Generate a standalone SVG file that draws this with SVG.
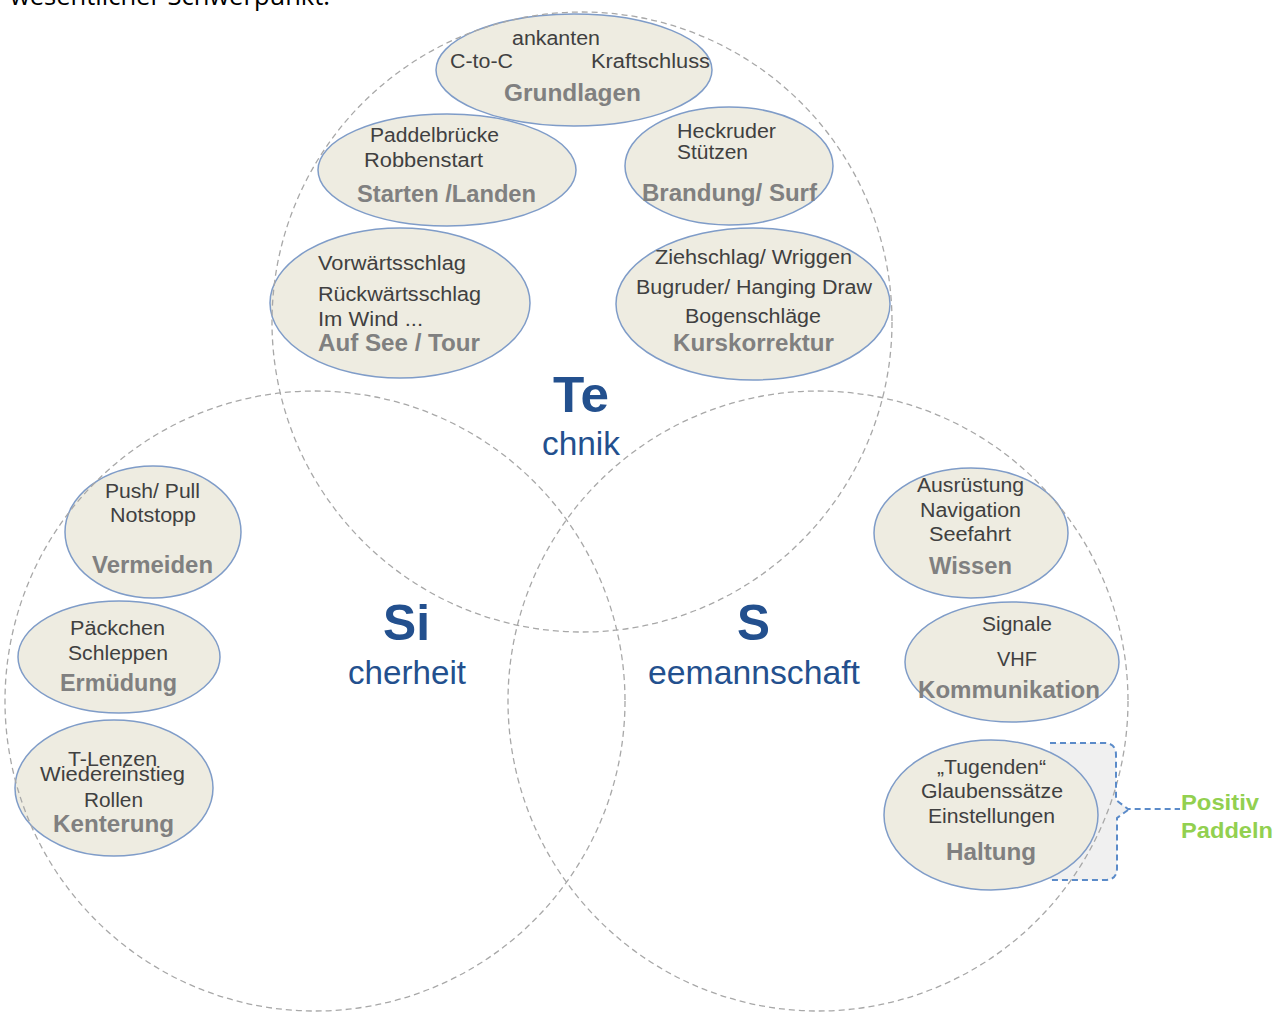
<svg xmlns="http://www.w3.org/2000/svg" width="1281" height="1012" viewBox="0 0 1281 1012">
<style>
.bg{fill:#ffffff}
.big-circle{fill:none;stroke:#a8a8a8;stroke-width:1.3;stroke-dasharray:6 4}
.node ellipse{fill:#eeece1;stroke:#7f9cc8;stroke-width:1.5}
.t{font-family:"Liberation Sans",Arial,sans-serif;font-size:20px;fill:#404040}
.h{font-family:"Liberation Sans",Arial,sans-serif;font-size:23px;font-weight:bold;fill:#808080}
.big{font-family:"Liberation Sans",Arial,sans-serif;font-size:50px;font-weight:bold;fill:#23508e}
.sub{font-family:"Liberation Sans",Arial,sans-serif;font-size:33px;fill:#23508e}
.brace{fill:none;stroke:#5b8bc9;stroke-width:2;stroke-dasharray:6 4}
.brace-fill{fill:#f0f0f0;stroke:none}
.green{font-family:"Liberation Sans",Arial,sans-serif;font-size:22px;font-weight:bold;fill:#92d050}
.head{font-family:"Open Sans","Liberation Sans",sans-serif;font-size:26px;fill:#000000}
</style>
<rect class="bg" x="0" y="0" width="1281" height="1012"/>
<text class="head" x="10" y="5" textLength="320" lengthAdjust="spacingAndGlyphs">wesentlicher Schwerpunkt.</text>

<g id="brace-area">
<path class="brace-fill" d="M1050,743 H1104 Q1116,743 1116,755 V800 L1128,809 L1117,818 V868 Q1117,880 1105,880 H1050 Z"/>
</g>

<g id="node-grundlagen" class="node">
<ellipse cx="574" cy="70" rx="138" ry="56"/>
</g>
<g id="node-starten" class="node">
<ellipse cx="447" cy="170" rx="129" ry="56"/>
</g>
<g id="node-brandung" class="node">
<ellipse cx="729" cy="166" rx="104" ry="59"/>
</g>
<g id="node-aufsee" class="node">
<ellipse cx="400" cy="303" rx="130" ry="75"/>
</g>
<g id="node-kurskorrektur" class="node">
<ellipse cx="753" cy="304" rx="137" ry="76"/>
</g>
<g id="node-vermeiden" class="node">
<ellipse cx="153" cy="532" rx="88" ry="66"/>
</g>
<g id="node-ermuedung" class="node">
<ellipse cx="119" cy="657" rx="101" ry="56"/>
</g>
<g id="node-kenterung" class="node">
<ellipse cx="114" cy="788" rx="99" ry="68"/>
</g>
<g id="node-wissen" class="node">
<ellipse cx="971" cy="533" rx="97" ry="65"/>
</g>
<g id="node-kommunikation" class="node">
<ellipse cx="1012" cy="662" rx="107" ry="60"/>
</g>
<g id="node-haltung" class="node">
<ellipse cx="991" cy="815" rx="107" ry="75"/>
</g>

<g id="circles">
<circle class="big-circle" cx="582" cy="322" r="310"/>
<circle class="big-circle" cx="315" cy="701" r="310"/>
<circle class="big-circle" cx="818" cy="701" r="310"/>
</g>

<g id="connectors">
<path class="brace" d="M1050,743 H1104 Q1116,743 1116,755 V800 L1128,809 H1180 M1128,810 L1117,818 V868 Q1117,880 1105,880 H1050"/>
</g>

<g id="labels-grundlagen">
<text class="t" x="512" y="45" textLength="88" lengthAdjust="spacingAndGlyphs">ankanten</text>
<text class="t" x="450" y="68" textLength="63" lengthAdjust="spacingAndGlyphs">C-to-C</text>
<text class="t" x="591" y="68" textLength="119" lengthAdjust="spacingAndGlyphs">Kraftschluss</text>
<text class="h" x="504" y="101" textLength="137" lengthAdjust="spacingAndGlyphs">Grundlagen</text>
</g>
<g id="labels-starten">
<text class="t" x="370" y="142" textLength="129" lengthAdjust="spacingAndGlyphs">Paddelbrücke</text>
<text class="t" x="364" y="167" textLength="119" lengthAdjust="spacingAndGlyphs">Robbenstart</text>
<text class="h" x="357" y="202" textLength="179" lengthAdjust="spacingAndGlyphs">Starten /Landen</text>
</g>
<g id="labels-brandung">
<text class="t" x="677" y="138" textLength="99" lengthAdjust="spacingAndGlyphs">Heckruder</text>
<text class="t" x="677" y="159" textLength="71" lengthAdjust="spacingAndGlyphs">Stützen</text>
<text class="h" x="642" y="201" textLength="175" lengthAdjust="spacingAndGlyphs">Brandung/ Surf</text>
</g>
<g id="labels-aufsee">
<text class="t" x="318" y="270" textLength="148" lengthAdjust="spacingAndGlyphs">Vorwärtsschlag</text>
<text class="t" x="318" y="301" textLength="163" lengthAdjust="spacingAndGlyphs">Rückwärtsschlag</text>
<text class="t" x="318" y="326" textLength="105" lengthAdjust="spacingAndGlyphs">Im Wind ...</text>
<text class="h" x="318" y="351" textLength="162" lengthAdjust="spacingAndGlyphs">Auf See / Tour</text>
</g>
<g id="labels-kurskorrektur">
<text class="t" x="655" y="264" textLength="197" lengthAdjust="spacingAndGlyphs">Ziehschlag/ Wriggen</text>
<text class="t" x="636" y="294" textLength="236" lengthAdjust="spacingAndGlyphs">Bugruder/ Hanging Draw</text>
<text class="t" x="685" y="323" textLength="136" lengthAdjust="spacingAndGlyphs">Bogenschläge</text>
<text class="h" x="673" y="351" textLength="161" lengthAdjust="spacingAndGlyphs">Kurskorrektur</text>
</g>
<g id="labels-vermeiden">
<text class="t" x="105" y="498" textLength="95" lengthAdjust="spacingAndGlyphs">Push/ Pull</text>
<text class="t" x="110" y="522" textLength="86" lengthAdjust="spacingAndGlyphs">Notstopp</text>
<text class="h" x="92" y="573" textLength="121" lengthAdjust="spacingAndGlyphs">Vermeiden</text>
</g>
<g id="labels-ermuedung">
<text class="t" x="70" y="635" textLength="95" lengthAdjust="spacingAndGlyphs">Päckchen</text>
<text class="t" x="68" y="660" textLength="100" lengthAdjust="spacingAndGlyphs">Schleppen</text>
<text class="h" x="60" y="691" textLength="117" lengthAdjust="spacingAndGlyphs">Ermüdung</text>
</g>
<g id="labels-kenterung">
<text class="t" x="68" y="766" textLength="89" lengthAdjust="spacingAndGlyphs">T-Lenzen</text>
<text class="t" x="40" y="781" textLength="145" lengthAdjust="spacingAndGlyphs">Wiedereinstieg</text>
<text class="t" x="84" y="807" textLength="59" lengthAdjust="spacingAndGlyphs">Rollen</text>
<text class="h" x="53" y="832" textLength="121" lengthAdjust="spacingAndGlyphs">Kenterung</text>
</g>
<g id="labels-wissen">
<text class="t" x="917" y="492" textLength="107" lengthAdjust="spacingAndGlyphs">Ausrüstung</text>
<text class="t" x="920" y="517" textLength="101" lengthAdjust="spacingAndGlyphs">Navigation</text>
<text class="t" x="929" y="541" textLength="82" lengthAdjust="spacingAndGlyphs">Seefahrt</text>
<text class="h" x="929" y="574" textLength="83" lengthAdjust="spacingAndGlyphs">Wissen</text>
</g>
<g id="labels-kommunikation">
<text class="t" x="982" y="631" textLength="70" lengthAdjust="spacingAndGlyphs">Signale</text>
<text class="t" x="997" y="666" textLength="40" lengthAdjust="spacingAndGlyphs">VHF</text>
<text class="h" x="918" y="698" textLength="182" lengthAdjust="spacingAndGlyphs">Kommunikation</text>
</g>
<g id="labels-haltung">
<text class="t" x="937" y="774" textLength="109" lengthAdjust="spacingAndGlyphs">„Tugenden“</text>
<text class="t" x="921" y="798" textLength="142" lengthAdjust="spacingAndGlyphs">Glaubenssätze</text>
<text class="t" x="928" y="823" textLength="127" lengthAdjust="spacingAndGlyphs">Einstellungen</text>
<text class="h" x="946" y="860" textLength="90" lengthAdjust="spacingAndGlyphs">Haltung</text>
</g>

<g id="title-technik">
<text class="big" x="553" y="412" textLength="56" lengthAdjust="spacingAndGlyphs">Te</text>
<text class="sub" x="542" y="455" textLength="78" lengthAdjust="spacingAndGlyphs">chnik</text>
</g>
<g id="title-sicherheit">
<text class="big" x="383" y="640" textLength="47" lengthAdjust="spacingAndGlyphs">Si</text>
<text class="sub" x="348" y="684" textLength="118" lengthAdjust="spacingAndGlyphs">cherheit</text>
</g>
<g id="title-seemannschaft">
<text class="big" x="737" y="640" textLength="33" lengthAdjust="spacingAndGlyphs">S</text>
<text class="sub" x="648" y="684" textLength="212" lengthAdjust="spacingAndGlyphs">eemannschaft</text>
</g>

<g id="node-positiv-paddeln">
<text class="green" x="1181" y="810" textLength="78" lengthAdjust="spacingAndGlyphs">Positiv</text>
<text class="green" x="1181" y="838" textLength="92" lengthAdjust="spacingAndGlyphs">Paddeln</text>
</g>
</svg>
